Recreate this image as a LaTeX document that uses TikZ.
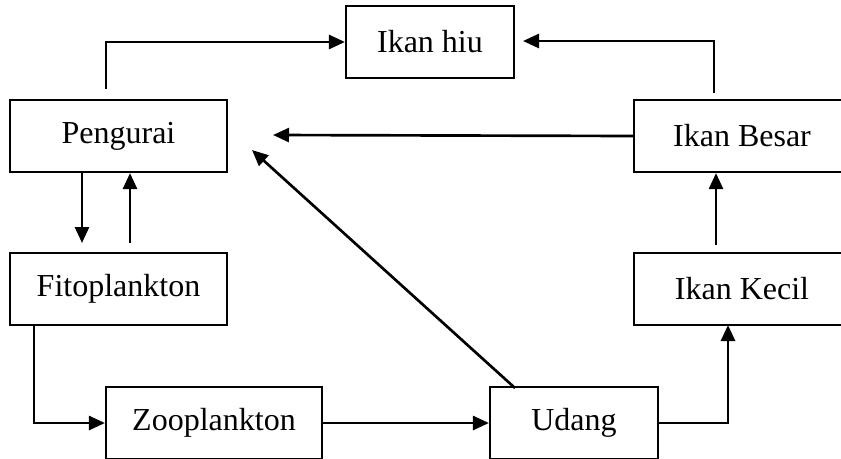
\documentclass[tikz,border=0pt]{standalone}
\usepackage{fontspec}
\setmainfont{Liberation Serif}
\usepackage{tikz}
\usetikzlibrary{positioning,arrows.meta,calc}

\tikzset{
  box/.style={draw, line width=1.6pt, inner sep=0pt, minimum height=54pt, font=\fontsize{24}{28}\selectfont},
  arr/.style={line width=2pt, -{Triangle[length=12pt,width=10.5pt]}}
}

\begin{document}
\begin{tikzpicture}[x=0.75pt, y=-0.75pt]
            \useasboundingbox (0,0) rectangle (841,458);
            \clip (0,0) rectangle (841,458);
            \node[box, minimum width=126pt] (hiu) at (430,42) {Ikan hiu};
            \node[box, minimum width=162.75pt] (peng) at (118.5,136) {Pengurai};
            \node[box, minimum width=162pt] (besar) at (742,136) {Ikan Besar};
            \node[box, minimum width=162.75pt] (fito) at (118.5,289) {Fitoplankton};
            \node[box, minimum width=162pt] (kecil) at (742,289) {Ikan Kecil};
            \node[box, minimum width=162pt] (zoo) at (214,423) {Zooplankton};
            \node[box, minimum width=126pt] (udang) at (574,423) {Udang};

            \coordinate (pengtop) at (106,89);
            \coordinate (besartop) at (714,93);
            \coordinate (hiuright) at (523,41);
            \coordinate (pengright) at (273,135);
            \coordinate (pengcorner) at (252,150);
            \coordinate (udangtop) at (515,388);
            \coordinate (fitotop) at (82,243);
            \coordinate (fitoup) at (130,243);
            \coordinate (fitoleft) at (34,325);
            \coordinate (kecilbottom) at (728,325);
            \coordinate (keciltop) at (716,245);

            \draw[arr] (pengtop) |- (hiu.west);
            \draw[arr] (besartop) |- (hiuright);
            \draw[arr] (besar.west) -- (pengright);
            \draw[arr] (udangtop) -- (pengcorner);
            \draw[arr] (peng.south -| fitotop) -- (fitotop);
            \draw[arr] (fitoup) -- (fitoup |- peng.south);
            \draw[arr] (fitoleft) |- (zoo.west);
            \draw[arr] (zoo.east) -- (udang.west);
            \draw[arr] (udang.east) -| (kecilbottom);
            \draw[arr] (keciltop) -- (keciltop |- besar.south);
          \end{tikzpicture}
\end{document}
